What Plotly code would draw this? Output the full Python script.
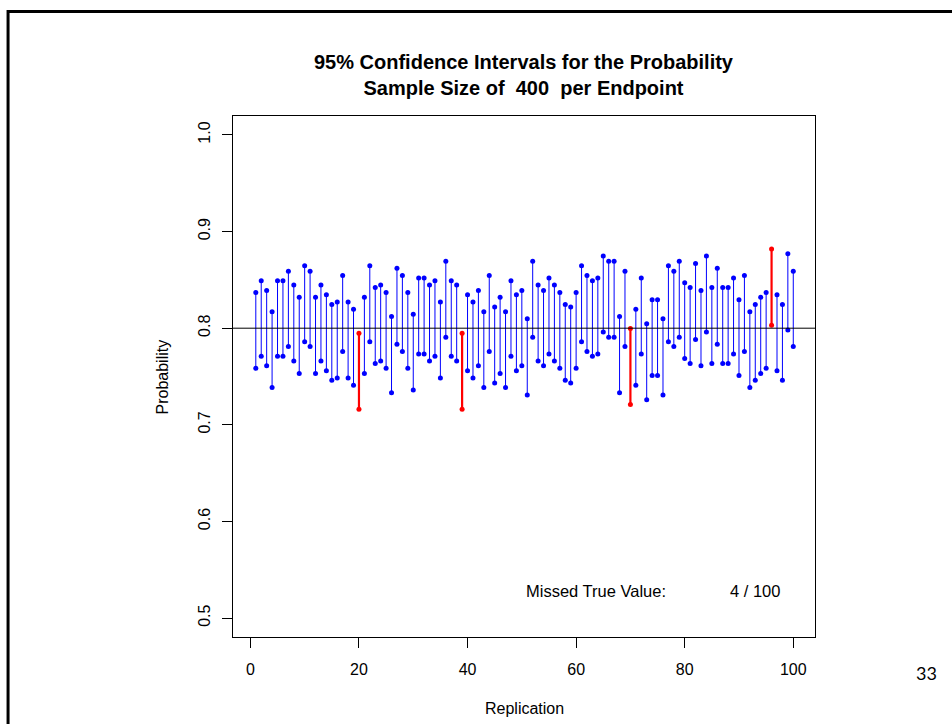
import plotly.graph_objects as go

# ---------------- data ----------------
replication = list(range(1, 101))
upper = [0.837, 0.849, 0.839, 0.817, 0.849, 0.849, 0.859, 0.8446, 0.832, 0.8646,
         0.859, 0.832, 0.8446, 0.8345, 0.8245, 0.827, 0.8546, 0.827, 0.8197, 0.7948,
         0.832, 0.8646, 0.842, 0.8446, 0.837, 0.812, 0.862, 0.8546, 0.837, 0.8145,
         0.852, 0.852, 0.8446, 0.849, 0.827, 0.8694, 0.849, 0.8446, 0.7948, 0.8345,
         0.827, 0.839, 0.817, 0.8546, 0.822, 0.832, 0.817, 0.849, 0.8345, 0.839,
         0.8097, 0.8694, 0.8446, 0.839, 0.852, 0.8446, 0.837, 0.8245, 0.822, 0.837,
         0.8646, 0.8546, 0.849, 0.852, 0.8746, 0.8694, 0.8694, 0.812, 0.859, 0.7997,
         0.8197, 0.852, 0.8045, 0.8294, 0.8294, 0.8097, 0.8646, 0.859, 0.8694, 0.847,
         0.842, 0.867, 0.839, 0.8746, 0.842, 0.862, 0.842, 0.842, 0.852, 0.8294,
         0.8546, 0.817, 0.8245, 0.832, 0.837, 0.8819, 0.8345, 0.8245, 0.877, 0.859]
lower = [0.7586, 0.771, 0.761, 0.7385, 0.771, 0.771, 0.781, 0.766, 0.753, 0.786,
         0.781, 0.753, 0.766, 0.756, 0.746, 0.7485, 0.776, 0.7485, 0.741, 0.716,
         0.753, 0.786, 0.7635, 0.766, 0.7586, 0.7333, 0.7834, 0.776, 0.7586, 0.736,
         0.7734, 0.7734, 0.766, 0.771, 0.7485, 0.7907, 0.771, 0.766, 0.716, 0.756,
         0.7485, 0.761, 0.7385, 0.776, 0.7434, 0.753, 0.7385, 0.771, 0.756, 0.761,
         0.7309, 0.7907, 0.766, 0.761, 0.7734, 0.766, 0.7586, 0.746, 0.7434, 0.7586,
         0.786, 0.776, 0.771, 0.7734, 0.796, 0.7907, 0.7907, 0.7333, 0.781, 0.7209,
         0.741, 0.7734, 0.726, 0.751, 0.751, 0.7309, 0.786, 0.781, 0.7907, 0.7686,
         0.7635, 0.7883, 0.761, 0.796, 0.7635, 0.7834, 0.7635, 0.7635, 0.7734, 0.751,
         0.776, 0.7385, 0.746, 0.753, 0.7586, 0.8031, 0.756, 0.746, 0.798, 0.781]
true_p = 0.8
sample_size = 400
x_ticks = [0, 20, 40, 60, 80, 100]
y_ticks = [0.5, 0.6, 0.7, 0.8, 0.9, 1.0]
y_tick_labels = ["0.5", "0.6", "0.7", "0.8", "0.9", "1.0"]

# ---------------- build segments ----------------
FONT = "Liberation Sans, Arial, sans-serif"
hit_x, hit_y, miss_x, miss_y = [], [], [], []
n_miss = 0
for r, lo, hi in zip(replication, lower, upper):
    missed = lo > true_p or hi < true_p
    if missed:
        n_miss += 1
        miss_x += [r, r, None]
        miss_y += [lo, hi, None]
    else:
        hit_x += [r, r, None]
        hit_y += [lo, hi, None]

fig = go.Figure()
fig.add_trace(go.Scatter(x=hit_x, y=hit_y, mode="lines+markers",
                         line=dict(color="#0000FF", width=1),
                         marker=dict(color="#0000FF", size=5),
                         showlegend=False, hoverinfo="skip"))
fig.add_trace(go.Scatter(x=miss_x, y=miss_y, mode="lines+markers",
                         line=dict(color="#FF0000", width=2.2),
                         marker=dict(color="#FF0000", size=5),
                         showlegend=False, hoverinfo="skip"))

# true value reference line
fig.add_shape(type="line", xref="paper", x0=0, x1=1, yref="y", y0=true_p, y1=true_p,
              line=dict(color="black", width=1), layer="above")

# slide frame (top and left)
fig.add_shape(type="line", xref="paper", yref="paper", x0=-0.3865, x1=1.24,
              y0=1.2006, y1=1.2006, line=dict(color="black", width=3))
fig.add_shape(type="line", xref="paper", yref="paper", x0=-0.3865, x1=-0.3865,
              y0=1.2035, y1=-0.17, line=dict(color="black", width=3))

fig.add_annotation(text="<b>95% Confidence Intervals for the Probability</b><br>"
                        f"<b>Sample Size of  {sample_size}  per Endpoint</b>",
                   xref="paper", yref="paper", x=0.5, y=1.078, xanchor="center",
                   yanchor="middle", showarrow=False,
                   font=dict(family=FONT, size=20, color="black"))
fig.add_annotation(text="Probability", xref="paper", yref="paper", x=-0.1203, y=0.5,
                   textangle=-90, xanchor="center", yanchor="middle", showarrow=False,
                   font=dict(family=FONT, size=16, color="black"))
fig.add_annotation(text="Replication", xref="paper", yref="paper", x=0.5, y=-0.1363,
                   xanchor="center", yanchor="middle", showarrow=False,
                   font=dict(family=FONT, size=16, color="black"))
fig.add_annotation(text="Missed True Value:", xref="x", yref="y", x=63.7, y=0.5285,
                   xanchor="center", yanchor="middle", showarrow=False,
                   font=dict(family=FONT, size=16.5, color="black"))
fig.add_annotation(text=f"{n_miss} / {len(replication)}", xref="x", yref="y", x=92.9,
                   y=0.5285, xanchor="center", yanchor="middle", showarrow=False,
                   font=dict(family=FONT, size=16.5, color="black"))
fig.add_annotation(text="33", xref="paper", yref="paper", x=(926 - 233.3) / 581.7,
                   y=(637 - 673) / 521, xanchor="center", yanchor="middle",
                   showarrow=False, font=dict(family="Lato, Open Sans, sans-serif",
                                              size=18, color="black"))

fig.update_layout(
    width=952, height=724,
    margin=dict(l=233, r=137, t=116, b=87),
    paper_bgcolor="white", plot_bgcolor="white",
    showlegend=False,
    xaxis=dict(range=[-3.2, 104.0], tickvals=x_ticks, ticks="outside", ticklen=10,
               tickcolor="black", showgrid=False, zeroline=False, showline=True,
               mirror=True, linecolor="black", linewidth=1,
               ticklabelstandoff=8,
               tickfont=dict(family=FONT, size=16, color="black")),
    yaxis=dict(range=[0.4804, 1.0196], tickvals=y_ticks, ticktext=y_tick_labels,
               ticks="outside", ticklen=10, tickcolor="black", tickangle=-90,
               showgrid=False, zeroline=False, showline=True, mirror=True,
               linecolor="black", linewidth=1, ticklabelstandoff=6,
               tickfont=dict(family=FONT, size=16, color="black")),
)

fig.write_html("out.html")
